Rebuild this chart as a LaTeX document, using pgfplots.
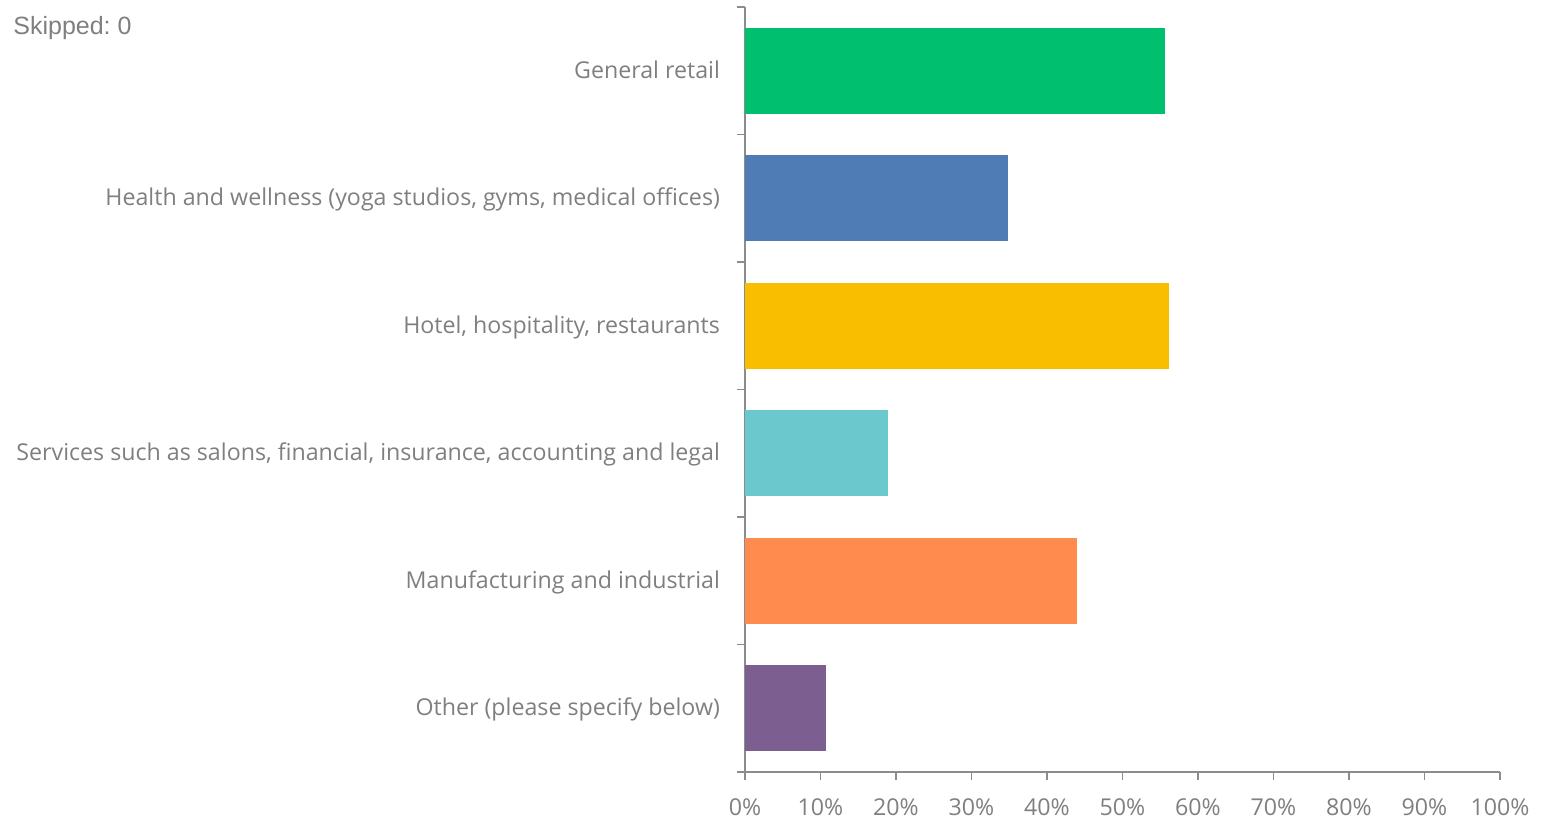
\documentclass[border=0pt]{standalone}
\usepackage{pgfplots}
\pgfplotsset{compat=1.18}
\usepackage{fontspec}
\setmainfont{Open Sans}
\newfontfamily\skipfont{Liberation Sans}
\definecolor{txt}{HTML}{7F7F7F}
\definecolor{axc}{HTML}{8C8C8C}
\definecolor{c1}{HTML}{00BF6F}
\definecolor{c2}{HTML}{507CB6}
\definecolor{c3}{HTML}{F9BE00}
\definecolor{c4}{HTML}{6BC8CD}
\definecolor{c5}{HTML}{FF8B4F}
\definecolor{c6}{HTML}{7D5E90}
\frenchspacing
\begin{document}
\begin{tikzpicture}
\path[use as bounding box] (0,0) rectangle (774pt,409.5pt);
\node[anchor=base west, inner sep=0pt, text=txt, font=\skipfont\fontsize{12.5pt}{14pt}\selectfont] at (6.5pt,392pt) {Skipped: 0};
\begin{axis}[
  at={(372.5pt,23.5pt)}, anchor=south west,
  scale only axis, width=377.5pt, height=382.5pt,
  xbar, bar width=43pt, bar shift=0pt,
  xmin=0, xmax=100, ymin=-0.5, ymax=5.5, y dir=reverse,
  axis x line*=bottom, axis y line*=left,
  axis line style={axc, line width=0.9pt},
  xtick={0,10,...,100},
  xticklabel={\pgfmathprintnumber{\tick}\%},
  ytick={0,...,5},
  yticklabels={General retail,{Health and wellness (yoga studios, gyms, medical offices)},{Hotel, hospitality, restaurants},{Services such as salons, financial, insurance, accounting and legal},Manufacturing and industrial,Other (please specify below)},
  minor ytick={-0.5,0.5,...,5.5},
  tick align=outside,
  major tick length=4pt,
  minor tick length=4pt,
  y tick style={draw=none},
  minor y tick style={draw=axc, line width=0.9pt},
  x tick style={draw=axc, line width=0.9pt},
  tick label style={text=txt, font=\fontsize{11.6pt}{14pt}\selectfont},
  yticklabel style={xshift=-5pt, text height=9pt, text depth=1.5pt},
  xticklabel style={yshift=-5.5pt, text height=8.5pt, text depth=2.5pt},
  /pgf/number format/assume math mode=true,
  clip=false,
]
\addplot[fill=c1, draw=none] coordinates {(55.6,0)};
\addplot[fill=c2, draw=none] coordinates {(34.8,1)};
\addplot[fill=c3, draw=none] coordinates {(56.2,2)};
\addplot[fill=c4, draw=none] coordinates {(19.0,3)};
\addplot[fill=c5, draw=none] coordinates {(44.0,4)};
\addplot[fill=c6, draw=none] coordinates {(10.7,5)};
\end{axis}
\end{tikzpicture}
\end{document}
